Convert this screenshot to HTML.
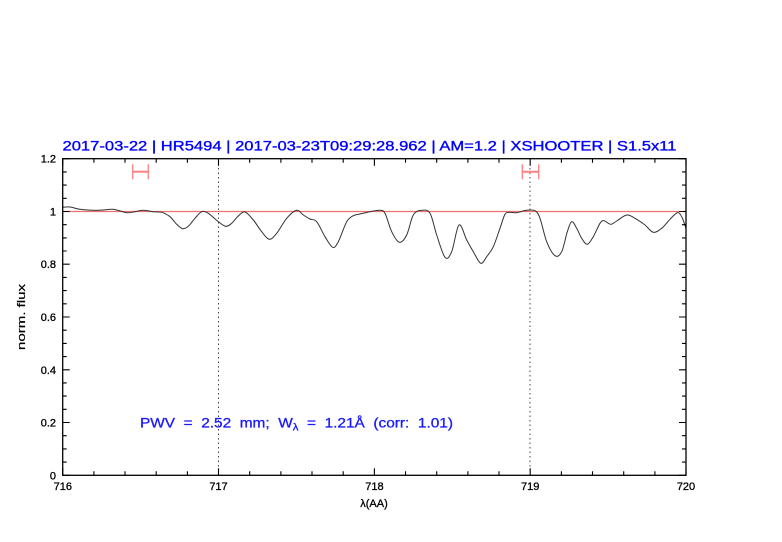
<!DOCTYPE html>
<html>
<head>
<meta charset="utf-8">
<style>
html,body{margin:0;padding:0;background:#fff;}
svg{display:block;}
text{font-family:"Liberation Sans",sans-serif;}
</style>
</head>
<body>
<svg width="782" height="542" viewBox="0 0 782 542" xmlns="http://www.w3.org/2000/svg">
<rect width="782" height="542" fill="#fff"/>
<!-- title -->
<text x="62.5" y="150.3" font-size="14" fill="#0000ff" stroke="#0000ff" stroke-width="0.35" textLength="614" lengthAdjust="spacingAndGlyphs" style="white-space:pre">2017-03-22 | HR5494 | 2017-03-23T09:29:28.962 | AM=1.2 | XSHOOTER | S1.5x11</text>

<!-- reference line y=1 -->
<line x1="62.7" y1="211.5" x2="686" y2="211.5" stroke="#f07070" stroke-width="1.2"/>

<!-- dotted verticals -->
<line x1="218.5" y1="159" x2="218.5" y2="475" stroke="#444" stroke-width="1" stroke-dasharray="1.5 3"/>
<line x1="530" y1="159" x2="530" y2="475" stroke="#444" stroke-width="1" stroke-dasharray="1.5 3"/>

<!-- error bars -->
<g stroke="#ff8080" stroke-width="1.3" fill="none">
<line x1="132.7" y1="171.7" x2="148.3" y2="171.7" stroke-width="2"/>
<line x1="132.7" y1="164.3" x2="132.7" y2="179.3"/>
<line x1="148.3" y1="164.3" x2="148.3" y2="179.3"/>
<line x1="522.3" y1="171.7" x2="538.7" y2="171.7" stroke-width="2"/>
<line x1="522.3" y1="164.3" x2="522.3" y2="179.3"/>
<line x1="538.7" y1="164.3" x2="538.7" y2="179.3"/>
</g>

<!-- spectrum -->
<polyline id="spec" fill="none" stroke="#333" stroke-width="1" stroke-linejoin="round" points="
62.7,207.3 70,207 80,209.3 93.3,210.3 103.3,210 113.3,209.3 126.7,212.7 133.3,212 143.3,210.3 153.3,211.7 161.7,212.3 170,216.7 176.7,224.3 182.7,228.7 188.3,226.3 195,218.3 201.7,211.7 208.3,213.3 218.3,221.7 225.7,226.3 231.7,223.3 238.3,216 245,212 253.3,220 261.7,231.7 269.3,239.3 276.7,233.3 286.7,218.3 296.7,210.3 303.3,215 310,219 316.7,221.7 325,236.7 332.7,247.3 338.3,241.7 346.7,221.7 353.3,215.7 360,214 370,211.7 380,210.3 385,213.3 391.7,231.7 399.3,242.3 406.7,235 413.3,215 421.7,210.3 430,213.3 436.7,235 445,257.3 451.7,251.7 459,225 466.7,240 473.3,251.7 480.7,263.3 486.7,256.7 493.3,246.7 500,228.3 505,214.3 510,212.3 516.7,212.7 526.7,210.3 535,210.7 540,218.3 546.7,241.7 555,255.7 561.7,251.7 567.3,231.7 571.7,221.7 576.7,228.3 581.7,238.3 587.3,244.3 593.3,236.7 600,223.3 604,220.7 610.7,224.3 616.7,221 626.7,215 635,218.3 645,225 653.3,232.3 661.7,228.3 670,219.3 677.3,212.7 681.7,216.7 686,228.3"/>
<path id="specs" fill="none" stroke="#333" stroke-width="1" d=""/>

<!-- frame -->
<rect x="62.7" y="158.7" width="623.3" height="316.6" fill="none" stroke="#000" stroke-width="1.3"/>

<!-- x ticks -->
<g stroke="#000" stroke-width="1.1">
<path d="
M62.7,475.3v-7 M93.9,475.3v-4 M125,475.3v-4 M156.2,475.3v-4 M187.4,475.3v-4
M218.5,475.3v-7 M249.7,475.3v-4 M280.9,475.3v-4 M312,475.3v-4 M343.2,475.3v-4
M374.4,475.3v-7 M405.5,475.3v-4 M436.7,475.3v-4 M467.9,475.3v-4 M499,475.3v-4
M530.2,475.3v-7 M561.4,475.3v-4 M592.5,475.3v-4 M623.7,475.3v-4 M654.9,475.3v-4
M686,475.3v-7
M62.7,158.7v7 M93.9,158.7v4 M125,158.7v4 M156.2,158.7v4 M187.4,158.7v4
M218.5,158.7v7 M249.7,158.7v4 M280.9,158.7v4 M312,158.7v4 M343.2,158.7v4
M374.4,158.7v7 M405.5,158.7v4 M436.7,158.7v4 M467.9,158.7v4 M499,158.7v4
M530.2,158.7v7 M561.4,158.7v4 M592.5,158.7v4 M623.7,158.7v4 M654.9,158.7v4
M686,158.7v7
"/>
<!-- y ticks -->
<path d="
M62.7,475.3h7 M62.7,462.1h4 M62.7,448.9h4 M62.7,435.7h4
M62.7,422.5h7 M62.7,409.3h4 M62.7,396.1h4 M62.7,382.9h4
M62.7,369.8h7 M62.7,356.6h4 M62.7,343.4h4 M62.7,330.2h4
M62.7,317h7 M62.7,303.8h4 M62.7,290.6h4 M62.7,277.4h4
M62.7,264.2h7 M62.7,251h4 M62.7,237.9h4 M62.7,224.7h4
M62.7,211.5h7 M62.7,198.3h4 M62.7,185.1h4 M62.7,171.9h4
M62.7,158.7h7
M686,475.3h-7 M686,462.1h-4 M686,448.9h-4 M686,435.7h-4
M686,422.5h-7 M686,409.3h-4 M686,396.1h-4 M686,382.9h-4
M686,369.8h-7 M686,356.6h-4 M686,343.4h-4 M686,330.2h-4
M686,317h-7 M686,303.8h-4 M686,290.6h-4 M686,277.4h-4
M686,264.2h-7 M686,251h-4 M686,237.9h-4 M686,224.7h-4
M686,211.5h-7 M686,198.3h-4 M686,185.1h-4 M686,171.9h-4
M686,158.7h-7
"/>
</g>

<!-- x tick labels -->
<g font-size="11" fill="#000" stroke="#000" stroke-width="0.3" text-anchor="middle">
<text x="62.8" y="490">716</text>
<text x="218.5" y="490">717</text>
<text x="374.4" y="490">718</text>
<text x="530.2" y="490">719</text>
<text x="686" y="490">720</text>
</g>
<!-- y tick labels -->
<g font-size="11" fill="#000" stroke="#000" stroke-width="0.3" text-anchor="end">
<text x="56" y="479.3">0</text>
<text x="56" y="426.5">0.2</text>
<text x="56" y="373.8">0.4</text>
<text x="56" y="321">0.6</text>
<text x="56" y="268.2">0.8</text>
<text x="56" y="215.5">1</text>
<text x="56" y="162.7">1.2</text>
</g>

<!-- axis labels -->
<text x="374" y="507" font-size="11" text-anchor="middle" fill="#000" stroke="#000" stroke-width="0.3">λ(AA)</text>
<text transform="translate(25,317) rotate(-90)" font-size="11" text-anchor="middle" fill="#000" stroke="#000" stroke-width="0.2" textLength="66" lengthAdjust="spacingAndGlyphs">norm. flux</text>

<!-- annotation -->
<text x="140" y="427.3" font-size="13.5" fill="#1a1aff" stroke="#1a1aff" stroke-width="0.3" textLength="313" lengthAdjust="spacingAndGlyphs" style="white-space:pre">PWV  =  2.52  mm;  W<tspan font-size="10" dy="3">λ</tspan><tspan dy="-3">  =  1.21Å  (corr:  1.01)</tspan></text>
</svg>
<script>
(function(){
  var pl=document.getElementById('spec');
  var pts=pl.getAttribute('points').trim().split(/\s+/).map(function(s){return s.split(',').map(Number);});
  var d='M'+pts[0][0]+','+pts[0][1];
  for(var i=0;i<pts.length-1;i++){
    var p0=pts[i-1]||pts[i],p1=pts[i],p2=pts[i+1],p3=pts[i+2]||pts[i+1];
    var c1x=p1[0]+(p2[0]-p0[0])/6,c1y=p1[1]+(p2[1]-p0[1])/6;
    var c2x=p2[0]-(p3[0]-p1[0])/6,c2y=p2[1]-(p3[1]-p1[1])/6;
    d+=' C'+c1x.toFixed(2)+','+c1y.toFixed(2)+' '+c2x.toFixed(2)+','+c2y.toFixed(2)+' '+p2[0]+','+p2[1];
  }
  document.getElementById('specs').setAttribute('d',d);
  pl.style.display='none';
})();
</script>
</body>
</html>
